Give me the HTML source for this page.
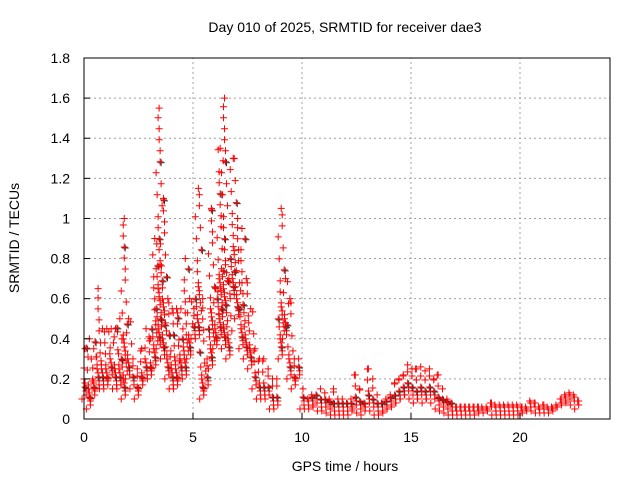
<!DOCTYPE html>
<html><head><meta charset="utf-8"><style>
html,body{margin:0;padding:0;background:#fff;}
svg{display:block;font-family:"Liberation Sans",sans-serif;}
</style></head><body>
<svg id="chart" width="640" height="480" viewBox="0 0 640 480">
<text x="345" y="32" font-size="14" text-anchor="middle">Day 010 of 2025, SRMTID for receiver dae3</text>
<text x="345" y="471" font-size="14" text-anchor="middle">GPS time / hours</text>
<text transform="translate(19,238) rotate(-90)" font-size="14" text-anchor="middle">SRMTID / TECUs</text>
<g id="grid"></g><g id="marks"></g><g id="axes"></g>
</svg>
<script>
const times=[0,0.2,0.4,0.6,0.8,1.0,1.2,1.4,1.6,1.8,2.0,2.2,2.4,2.6,2.8,3.0,3.2,3.4,3.6,3.8,4.0,4.2,4.4,4.6,4.8,5.0,5.2,5.4,5.6,5.8,6.0,6.2,6.4,6.6,6.8,7.0,7.2,7.4,7.6,7.8,8.0,8.2,8.4,8.6,8.8,9.0,9.2,9.4,9.6,9.8,10.0,10.2,10.4,10.6,10.8,11.0,11.2,11.4,11.6,11.8,12.0,12.2,12.4,12.6,12.8,13.0,13.2,13.4,13.6,13.8,14.0,14.2,14.4,14.6,14.8,15.0,15.2,15.4,15.6,15.8,16.0,16.2,16.4,16.6,16.8,17.0,17.2,17.4,17.6,17.8,18.0,18.2,18.4,18.6,18.8,19.0,19.2,19.4,19.6,19.8,20.0,20.2,20.4,20.6,20.8,21.0,21.2,21.4,21.6,21.8,22.0,22.2,22.4,22.6];
const lows=[0.1,0.05,0.1,0.15,0.15,0.15,0.2,0.15,0.15,0.1,0.2,0.15,0.1,0.15,0.2,0.2,0.25,0.35,0.3,0.2,0.15,0.15,0.2,0.2,0.3,0.4,0.4,0.1,0.15,0.25,0.35,0.4,0.35,0.3,0.6,0.5,0.35,0.3,0.25,0.15,0.1,0.1,0.1,0.05,0.05,0.3,0.4,0.2,0.15,0.2,0.05,0.05,0.05,0.06,0.04,0.04,0.03,0.02,0.02,0.02,0.02,0.02,0.05,0.03,0.02,0.06,0.04,0.02,0.02,0.03,0.05,0.06,0.08,0.1,0.12,0.1,0.08,0.1,0.08,0.1,0.08,0.05,0.04,0.03,0.02,0.02,0.02,0.02,0.02,0.02,0.02,0.03,0.03,0.04,0.02,0.02,0.02,0.02,0.02,0.02,0.02,0.03,0.04,0.04,0.03,0.03,0.03,0.03,0.04,0.06,0.07,0.08,0.07,0.05];
const highs=[0.35,0.4,0.35,0.65,0.45,0.45,0.45,0.45,0.5,1.0,0.5,0.3,0.25,0.35,0.45,0.4,0.9,1.55,1.1,0.6,0.55,0.55,0.55,0.8,0.6,0.55,1.15,0.6,0.3,1.05,0.65,1.35,1.6,0.7,1.3,1.0,0.95,0.7,0.55,0.35,0.3,0.3,0.25,0.2,0.2,1.05,0.7,0.6,0.3,0.3,0.15,0.1,0.12,0.12,0.15,0.13,0.1,0.15,0.1,0.1,0.08,0.1,0.22,0.15,0.08,0.25,0.2,0.12,0.08,0.1,0.12,0.18,0.2,0.22,0.27,0.25,0.25,0.26,0.24,0.25,0.2,0.22,0.15,0.1,0.08,0.06,0.06,0.06,0.06,0.06,0.06,0.06,0.06,0.08,0.07,0.07,0.07,0.07,0.07,0.07,0.06,0.06,0.09,0.08,0.06,0.07,0.06,0.06,0.07,0.1,0.12,0.13,0.12,0.09];
const xTicks=[0,5,10,15,20];
const yTicks=[0,0.2,0.4,0.6,0.8,1,1.2,1.4,1.6,1.8];
const X0=84,X1=610,Y0=419,Y1=58;
const xs=t=>X0+t*21.8;
const ys=v=>Y0-(v/1.8)*(Y0-Y1);
const NS='http://www.w3.org/2000/svg';
function mk(tag,attrs,parent){const e=document.createElementNS(NS,tag);for(const k in attrs)e.setAttribute(k,attrs[k]);parent.appendChild(e);return e;}
const grid=document.getElementById('grid'),axes=document.getElementById('axes'),marks=document.getElementById('marks');
xTicks.forEach(t=>{const x=xs(t);
 if(t>0){const g=mk('line',{x1:x,y1:Y0,x2:x,y2:Y1,stroke:'#a0a0a0','stroke-dasharray':'2,3'},grid);
 
 }
 const tk=mk('line',{x1:x,y1:Y0,x2:x,y2:Y0-6,stroke:'#000'},axes);
 
 
 const l=mk('text',{x:x,y:Y0+23,'font-size':14,'text-anchor':'middle'},axes);l.textContent=t;
 
 
});
yTicks.forEach(v=>{const y=ys(v);
 if(v>0){const g=mk('line',{x1:X0,y1:y,x2:X1,y2:y,stroke:'#a0a0a0','stroke-dasharray':'2,3'},grid);
 
 }
 const tk=mk('line',{x1:X0,y1:y,x2:X0+6,y2:y,stroke:'#000'},axes);
 
 
 const l=mk('text',{x:X0-14,y:y+5,'font-size':14,'text-anchor':'end'},axes);l.textContent=String(v);
 
 
});
const frame=mk('rect',{x:X0,y:Y1,width:X1-X0,height:Y0-Y1,fill:'none',stroke:'#000'},axes);


function plus(x,y,c){const p=mk('path',{d:`M${x-3.5},${y}h7M${x},${y-3.5}v7`,stroke:c,'stroke-width':1,fill:'none'},marks);
 
 }
times.forEach((t,i)=>{
 const y0=ys(lows[i]),y1=ys(highs[i]);
 const span=y0-y1;
 const dense=Math.min(span,Math.max(12,span*0.35));
 let k=0;
 for(let y=y0;y>=y1-0.1;k++){
  const x=xs(t)+((k*7)%5)-2+(k%2?2:0);
  if(k%7===3)plus(x+1,y+1,'#333');
  plus(x,y,'#ff0000');
  const d=y0-y;
  y-= d<dense?4:11;
 }
 plus(xs(t)+1,y1,'#ff0000');
});
</script>
</body></html>
